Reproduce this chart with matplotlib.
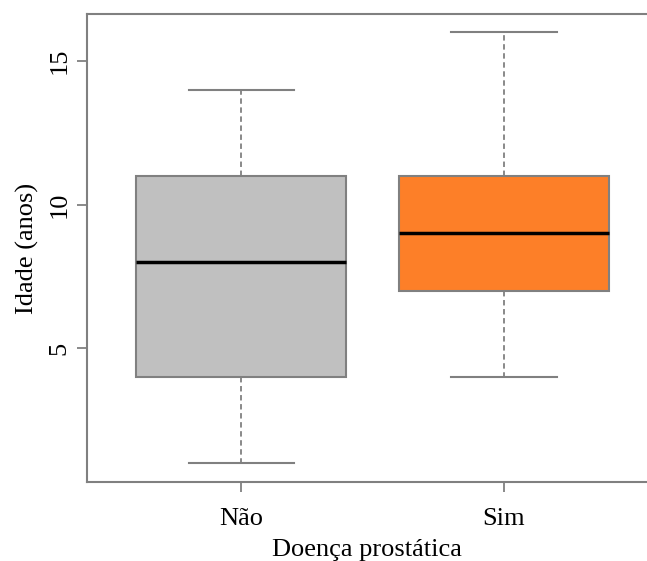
import matplotlib
matplotlib.use("Agg")
import matplotlib.pyplot as plt

# dados do boxplot
grupos = ["Não", "Sim"]
minimos = [1, 4]
q1 = [4, 7]
medianas = [8, 9]
q3 = [11, 11]
maximos = [14, 16]
cores = ["#C0C0C0", "#FD7F28"]

plt.rcParams['font.family'] = ['Liberation Serif', 'DejaVu Serif']

fig = plt.figure(figsize=(6.47, 5.61), dpi=100)
ax = fig.add_axes([0.1345, 0.1408, 0.8655, 0.8342])

stats = []
for i in range(len(grupos)):
    stats.append({"whislo": minimos[i], "q1": q1[i], "med": medianas[i],
                  "q3": q3[i], "whishi": maximos[i], "fliers": [],
                  "label": grupos[i]})

bp = ax.bxp(stats, positions=[1, 2], widths=0.8, patch_artist=True,
            showfliers=False,
            boxprops=dict(edgecolor="#808080", linewidth=1.5),
            whiskerprops=dict(color="#808080", linestyle=(0, (3, 2)), linewidth=1.3),
            capprops=dict(color="#808080", linewidth=1.5),
            medianprops=dict(color="black", linewidth=2.5))
for caixa, cor in zip(bp["boxes"], cores):
    caixa.set_facecolor(cor)
for cap in bp["caps"]:
    x = cap.get_xdata()
    c = (x[0] + x[1]) / 2
    cap.set_xdata([c - 0.2, c + 0.2])

ax.set_xlim(0.414, 2.544)
ax.set_ylim(0.33, 16.64)
ax.set_yticks([5, 10, 15])
ax.set_yticklabels(["5", "10", "15"], rotation=90, va="center", fontsize=19)
ax.set_xticks([1, 2])
ax.set_xticklabels(grupos, fontsize=19)
ax.tick_params(axis="both", color="#808080", length=7, width=1.3)
ax.tick_params(axis="x", pad=12)
ax.tick_params(axis="y", pad=5)

for lado in ["left", "bottom", "top"]:
    ax.spines[lado].set_color("#808080")
    ax.spines[lado].set_linewidth(1.5)
ax.spines["right"].set_visible(False)

ax.set_xlabel("Doença prostática", fontsize=19, labelpad=6)
ax.set_ylabel("Idade (anos)", fontsize=19, labelpad=7)

fig.savefig("out.png", dpi=100)
